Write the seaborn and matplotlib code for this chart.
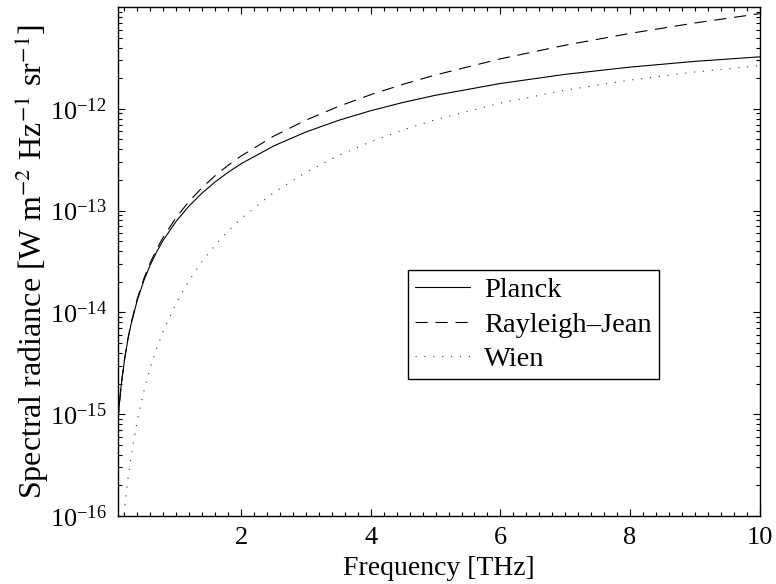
import numpy as np
import pandas as pd
import matplotlib
matplotlib.use("Agg")
import matplotlib.pyplot as plt
from matplotlib.ticker import MultipleLocator, LogLocator, NullFormatter, FixedLocator
import seaborn as sns

# frequencies (THz) and spectral radiance values
freq = [0.1, 0.12, 0.15, 0.2, 0.25, 0.3, 0.4, 0.5, 0.6, 0.7, 0.8, 1.0,
        1.2, 1.4, 1.6, 1.8, 2.0, 2.5, 3.0, 3.5, 4.0, 4.5, 5.0, 6.0,
        7.0, 8.0, 9.0, 10.0]
planck = [8.53e-16, 1.226e-15, 1.911e-15, 3.383e-15, 5.264e-15, 7.547e-15,
          1.330e-14, 2.060e-14, 2.941e-14, 3.968e-14, 5.138e-14, 7.888e-14,
          1.116e-13, 1.492e-13, 1.915e-13, 2.380e-13, 2.886e-13, 4.308e-13,
          5.923e-13, 7.693e-13, 9.585e-13, 1.156e-12, 1.359e-12, 1.773e-12,
          2.181e-12, 2.568e-12, 2.924e-12, 3.240e-12]
rayleigh_jean = [8.604e-16, 1.239e-15, 1.936e-15, 3.442e-15, 5.378e-15, 7.744e-15,
                 1.377e-14, 2.151e-14, 3.097e-14, 4.216e-14, 5.507e-14, 8.604e-14,
                 1.239e-13, 1.686e-13, 2.203e-13, 2.788e-13, 3.442e-13, 5.378e-13,
                 7.744e-13, 1.054e-12, 1.377e-12, 1.742e-12, 2.151e-12, 3.097e-12,
                 4.216e-12, 5.507e-12, 6.969e-12, 8.604e-12]
wien = [1.450e-17, 2.497e-17, 4.851e-17, 1.140e-16, 2.208e-16, 3.782e-16,
        8.815e-16, 1.692e-15, 2.873e-15, 4.486e-15, 6.583e-15, 1.242e-14,
        2.074e-14, 3.183e-14, 4.592e-14, 6.318e-14, 8.375e-14, 1.501e-13,
        2.381e-13, 3.471e-13, 4.756e-13, 6.213e-13, 7.825e-13, 1.139e-12,
        1.524e-12, 1.916e-12, 2.298e-12, 2.657e-12]
y_major = [1e-16, 1e-15, 1e-14, 1e-13, 1e-12]

df = pd.DataFrame({"freq": freq, "Planck": planck,
                   "Rayleigh\u2013Jean": rayleigh_jean, "Wien": wien})

sns.set_theme(style="ticks")
plt.rcParams["font.family"] = ["Liberation Serif", "DejaVu Serif"]
plt.rcParams["mathtext.fontset"] = "stix"
plt.rcParams["text.color"] = "black"
plt.rcParams["axes.labelcolor"] = "black"
plt.rcParams["xtick.color"] = "black"
plt.rcParams["ytick.color"] = "black"

fig = plt.figure(figsize=(7.76, 5.84), dpi=100)
ax = fig.add_axes([0.152, 0.1164, 0.827, 0.8716])

sns.lineplot(data=df, x="freq", y="Planck", ax=ax, color="black",
             linewidth=0.8, label="Planck")
sns.lineplot(data=df, x="freq", y="Rayleigh\u2013Jean", ax=ax, color="black",
             linewidth=0.8, linestyle=(0, (11, 7)), label="Rayleigh\u2013Jean")
sns.lineplot(data=df, x="freq", y="Wien", ax=ax, color="#333333",
             linewidth=0.8, linestyle=(0, (1, 7)), label="Wien")

ax.set_yscale("log")
ax.set_xlim(0.1, 10)
ax.set_ylim(1e-16, 1e-11)

ax.set_xticks([2, 4, 6, 8, 10])
ax.xaxis.set_minor_locator(MultipleLocator(0.2))
ax.yaxis.set_major_locator(FixedLocator(y_major))
ax.yaxis.set_minor_locator(LogLocator(base=10, subs=np.arange(2, 10), numticks=20))
ax.yaxis.set_minor_formatter(NullFormatter())

ax.tick_params(which="both", direction="in", top=True, right=True,
               labelsize=19, width=0.8, color="black", labelcolor="black", pad=8)
ax.tick_params(which="major", length=5)
ax.tick_params(which="minor", length=3)

for sp in ax.spines.values():
    sp.set_visible(True)
    sp.set_linewidth(1.0)
    sp.set_color("black")

ax.set_xlabel("Frequency [THz]", fontsize=20, labelpad=5, color="black")
ax.set_ylabel("Spectral radiance [W m$^{-2}$ Hz$^{-1}$ sr$^{-1}$]",
              fontsize=23, labelpad=-1, color="black")

leg = ax.legend(loc="upper left", bbox_to_anchor=(0.452, 0.483),
                borderaxespad=0, fontsize=20.5, frameon=True, fancybox=False,
                handlelength=1.93, handletextpad=0.5, labelspacing=0.3,
                borderpad=0.25)
leg.get_frame().set_edgecolor("black")
leg.get_frame().set_linewidth(1.0)
leg.get_frame().set_alpha(1)
for t in leg.get_texts():
    t.set_color("black")

fig.savefig("out.png", dpi=100)
